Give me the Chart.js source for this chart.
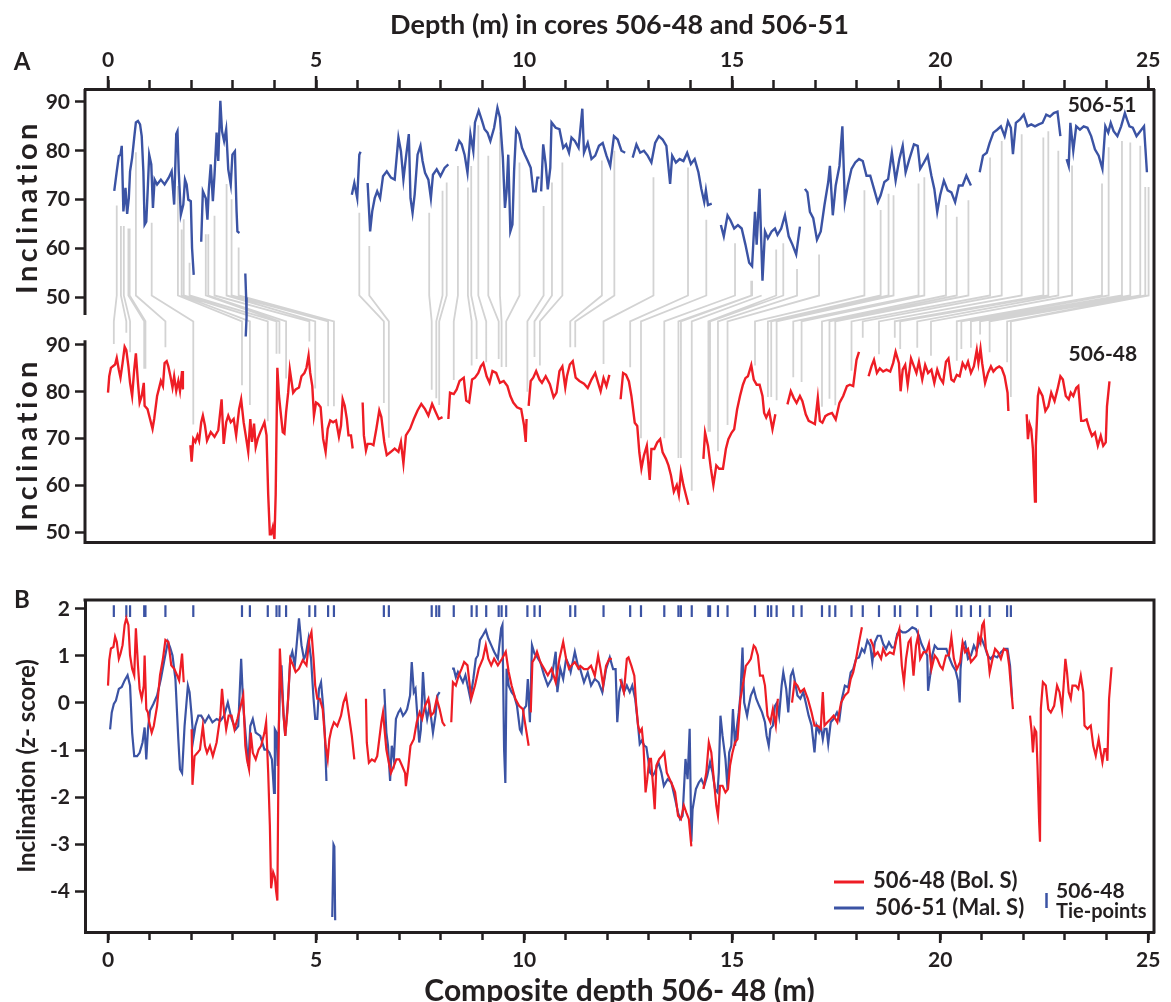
<!DOCTYPE html>
<html>
<head>
<meta charset="utf-8">
<script src="https://cdn.jsdelivr.net/npm/chart.js@4.4.1/dist/chart.umd.min.js"></script>
<style>
  html, body { margin: 0; padding: 0; background: #fff; overflow: hidden; }
  #wrap { position: relative; width: 1171px; height: 1002px; }
  #chartA { position: absolute; left: 0; top: 0; }
  #chartB { position: absolute; left: 0; top: 560px; }
</style>
</head>
<body>
<div id="wrap">
  <canvas id="chartA" width="1171" height="560"></canvas>
  <canvas id="chartB" width="1171" height="450"></canvas>
</div>
<script>
// ---- data ---------------------------------------------------------------
// [depth (m), inclination]; null = core break
const core51Incl = [
  [0.15,71.8],[0.21,75.8],[0.26,78.9],[0.30,79.2],[0.33,81.0],[0.37,67.6],[0.42,72.4],[0.46,67.1],[0.50,70.3],[0.53,75.8],
  [0.58,78.6],[0.63,82.7],[0.67,85.8],[0.72,86.1],[0.77,85.4],[0.81,83.0],[0.85,75.8],[0.88,64.9],[0.92,65.5],[0.96,73.1],
  [0.99,79.2],[1.04,77.2],[1.08,68.3],[1.12,74.1],[1.18,73.1],[1.27,74.1],[1.36,73.1],[1.46,74.5],[1.53,75.8],[1.59,69.0],
  [1.64,83.4],[1.67,84.0],[1.70,75.8],[1.75,66.9],[1.81,69.0],[1.85,74.1],[1.89,73.1],[1.93,70.0],[1.99,69.7],[2.02,60.1],
  [2.06,54.6],[2.15,null],
  [2.24,61.4],[2.28,71.7],[2.35,70.3],[2.39,65.9],[2.42,71.7],[2.47,77.2],[2.52,69.7],[2.56,75.1],[2.61,83.7],[2.65,77.9],
  [2.70,90.2],[2.74,84.0],[2.79,82.0],[2.84,84.4],[2.89,76.2],[2.95,73.1],[2.99,79.2],[3.05,79.9],[3.09,67.6],[3.11,63.5],
  [3.16,63.2],[3.22,null],
  [3.30,54.9],[3.32,50.0],[3.33,46.0],[3.31,42.0],[4.50,null],
  [5.86,71.0],[5.92,73.4],[5.99,70.3],[6.04,79.2],[6.07,79.8],[6.15,null],
  [6.24,73.4],[6.30,63.5],[6.35,67.6],[6.41,70.3],[6.47,71.7],[6.54,70.3],[6.61,74.8],[6.70,75.8],[6.80,74.5],[6.89,74.1],
  [6.98,82.7],[7.04,79.9],[7.10,74.1],[7.16,78.6],[7.23,83.4],[7.27,70.3],[7.32,67.3],[7.37,71.0],[7.44,79.2],[7.51,81.0],
  [7.56,77.9],[7.62,75.5],[7.70,74.1],[7.76,70.3],[7.81,75.1],[7.90,76.2],[7.99,74.8],[8.09,76.5],[8.18,77.2],[8.27,null],
  [8.36,79.9],[8.44,82.0],[8.50,81.3],[8.57,79.2],[8.64,75.5],[8.71,83.4],[8.78,79.9],[8.82,85.8],[8.91,88.2],[8.99,86.1],
  [9.05,84.4],[9.12,83.7],[9.19,82.0],[9.28,84.7],[9.36,88.8],[9.42,86.8],[9.49,78.6],[9.54,68.3],[9.58,71.7],[9.62,79.2],
  [9.67,63.5],[9.72,64.9],[9.76,75.8],[9.81,84.4],[9.88,83.4],[9.95,80.6],[10.02,79.2],[10.09,77.9],[10.16,76.5],[10.22,71.7],
  [10.28,71.7],[10.32,74.5],[10.37,74.5],[10.39,null],
  [10.41,71.7],[10.46,81.3],[10.52,77.2],[10.57,72.1],[10.63,76.5],[10.66,85.8],[10.76,84.7],[10.85,84.4],[10.94,80.6],[11.01,81.3],
  [11.08,79.6],[11.14,82.7],[11.22,82.0],[11.31,80.6],[11.40,88.6],[11.44,79.6],[11.53,81.6],[11.62,78.3],[11.71,79.0],[11.80,81.0],
  [11.89,81.6],[11.98,79.0],[12.07,76.9],[12.16,83.0],[12.25,82.3],[12.34,80.0],[12.43,79.6],[12.52,null],
  [12.61,78.6],[12.70,81.3],[12.79,79.6],[12.88,80.0],[12.97,79.0],[13.06,77.6],[13.15,81.6],[13.24,83.0],[13.33,82.3],[13.42,81.0],
  [13.51,73.2],[13.56,79.0],[13.65,77.6],[13.74,78.3],[13.83,77.9],[13.92,79.6],[14.01,77.3],[14.10,78.3],[14.19,75.6],[14.26,72.2],
  [14.33,69.5],[14.37,71.9],[14.42,68.9],[14.51,69.2],[14.60,null],
  [14.73,64.8],[14.80,62.5],[14.89,66.8],[14.96,65.8],[15.05,64.1],[15.14,64.8],[15.23,64.1],[15.32,60.8],[15.41,57.1],[15.48,56.4],
  [15.55,67.5],[15.59,60.8],[15.66,72.2],[15.73,53.4],[15.79,63.5],[15.86,62.1],[15.95,63.5],[16.03,64.1],[16.09,62.8],[16.18,64.1],
  [16.27,66.8],[16.36,62.5],[16.45,60.8],[16.54,58.8],[16.63,64.5],[16.70,null],
  [16.75,72.2],[16.81,71.5],[16.87,67.5],[16.95,66.2],[17.04,61.8],[17.13,63.5],[17.22,68.9],[17.31,73.6],[17.35,76.9],[17.42,66.8],
  [17.49,72.9],[17.58,76.9],[17.65,85.0],[17.71,69.5],[17.78,72.9],[17.87,76.3],[17.96,77.6],[18.05,78.3],[18.14,77.9],[18.23,74.9],
  [18.32,74.9],[18.41,72.2],[18.50,69.5],[18.57,70.9],[18.66,73.6],[18.75,74.2],[18.84,79.6],[18.93,73.9],[19.02,78.3],[19.10,81.0],
  [19.17,75.6],[19.26,78.3],[19.37,81.3],[19.46,81.0],[19.52,76.3],[19.61,77.6],[19.70,79.0],[19.79,74.9],[19.86,72.2],[19.93,67.5],
  [20.00,70.9],[20.09,73.9],[20.18,71.9],[20.27,71.5],[20.36,69.5],[20.45,72.9],[20.54,72.9],[20.63,74.9],[20.74,72.9],[20.85,null],
  [20.95,75.6],[21.03,79.0],[21.12,79.6],[21.19,81.6],[21.28,83.7],[21.37,84.3],[21.46,85.0],[21.55,83.0],[21.63,86.0],[21.70,84.7],
  [21.75,79.3],[21.82,85.7],[21.92,86.4],[22.01,87.4],[22.10,85.0],[22.19,85.4],[22.28,85.0],[22.37,85.4],[22.46,85.7],[22.55,87.4],
  [22.64,87.0],[22.73,87.7],[22.82,88.0],[22.89,83.0],[22.96,null],
  [23.04,78.3],[23.09,76.9],[23.13,85.7],[23.20,80.0],[23.27,85.0],[23.36,84.3],[23.45,85.0],[23.54,84.7],[23.63,83.0],[23.72,80.3],
  [23.81,79.0],[23.90,76.3],[23.97,85.0],[24.04,83.7],[24.10,85.7],[24.17,84.0],[24.26,83.0],[24.35,85.0],[24.44,87.7],[24.49,86.4],
  [24.55,85.0],[24.63,84.7],[24.72,83.0],[24.81,84.0],[24.90,85.0],[24.97,75.6]
];

const core48Incl = [
  [0.00,79.8],[0.03,83.3],[0.07,85.1],[0.17,85.8],[0.21,87.2],[0.26,84.7],[0.30,83.0],[0.35,86.1],[0.40,89.6],[0.44,88.9],
  [0.49,85.4],[0.53,81.9],[0.58,79.1],[0.63,84.7],[0.67,88.2],[0.72,81.9],[0.76,77.7],[0.81,79.1],[0.86,81.9],[0.88,77.0],
  [0.95,76.3],[1.01,74.2],[1.07,72.1],[1.11,74.2],[1.18,79.1],[1.22,80.5],[1.27,82.3],[1.32,81.2],[1.36,86.1],[1.41,86.5],
  [1.45,85.4],[1.50,83.3],[1.55,80.9],[1.59,83.3],[1.64,80.2],[1.69,82.3],[1.73,80.2],[1.78,84.4],[1.80,80.5],[1.90,null],
  [1.98,68.6],[2.01,65.1],[2.05,70.0],[2.10,69.3],[2.15,70.7],[2.19,69.6],[2.24,73.5],[2.28,74.9],[2.33,72.8],[2.38,69.6],
  [2.47,71.4],[2.56,70.4],[2.65,71.8],[2.73,78.4],[2.78,68.9],[2.84,73.5],[2.89,74.9],[2.95,73.5],[3.02,74.2],[3.08,70.7],
  [3.15,76.3],[3.20,78.4],[3.26,73.5],[3.31,70.7],[3.37,67.2],[3.42,74.2],[3.46,69.3],[3.51,73.2],[3.55,68.2],[3.60,70.0],
  [3.66,71.4],[3.76,73.5],[3.81,70.7],[3.85,58.1],[3.89,49.6],[3.92,49.6],[3.96,51.1],[4.00,48.6],[4.03,58.1],[4.07,85.1],
  [4.11,79.1],[4.15,75.6],[4.20,71.4],[4.24,71.1],[4.28,75.6],[4.33,79.8],[4.37,84.7],[4.45,79.8],[4.51,80.5],[4.59,80.9],
  [4.65,83.3],[4.72,84.0],[4.77,85.1],[4.82,87.7],[4.86,84.0],[4.91,81.2],[4.95,74.9],[5.00,77.7],[5.05,77.4],[5.11,76.7],
  [5.17,70.0],[5.23,67.2],[5.28,72.1],[5.34,73.9],[5.41,73.5],[5.48,73.9],[5.55,70.4],[5.60,72.8],[5.64,78.4],[5.69,77.0],
  [5.74,74.2],[5.78,70.7],[5.84,70.7],[5.88,67.9],[6.00,null],
  [6.12,77.7],[6.15,70.7],[6.20,67.5],[6.24,68.9],[6.32,68.9],[6.38,68.6],[6.45,72.1],[6.52,76.0],[6.57,74.6],[6.64,69.3],
  [6.70,66.5],[6.80,67.2],[6.89,67.9],[6.98,67.2],[7.04,69.3],[7.10,64.7],[7.16,70.7],[7.26,72.1],[7.35,74.2],[7.44,76.0],
  [7.53,77.4],[7.62,76.3],[7.70,74.9],[7.79,77.4],[7.88,75.6],[7.95,74.2],[8.04,74.6],[8.11,null],
  [8.18,74.2],[8.22,79.8],[8.31,79.5],[8.38,80.5],[8.45,82.3],[8.55,83.0],[8.61,78.1],[8.68,77.7],[8.75,82.6],[8.82,83.0],
  [8.90,84.0],[8.96,85.4],[9.02,86.1],[9.10,83.3],[9.17,81.9],[9.24,84.4],[9.33,84.0],[9.42,81.9],[9.51,82.3],[9.60,81.2],
  [9.67,79.1],[9.74,77.7],[9.83,76.7],[9.93,76.3],[10.00,72.8],[10.04,69.3],[10.06,74.2],[10.08,null],
  [10.11,77.0],[10.16,82.3],[10.22,83.0],[10.29,84.4],[10.37,82.6],[10.43,81.9],[10.52,83.3],[10.62,81.6],[10.71,78.8],[10.78,79.8],
  [10.85,84.4],[10.92,85.4],[10.99,80.9],[11.03,83.3],[11.10,85.8],[11.17,86.5],[11.24,83.0],[11.33,82.3],[11.44,81.7],[11.53,80.8],
  [11.62,82.6],[11.71,84.0],[11.78,81.9],[11.84,80.1],[11.91,82.9],[11.98,81.2],[12.05,83.6],[12.18,null],
  [12.32,78.4],[12.38,84.0],[12.45,83.6],[12.52,82.2],[12.58,79.1],[12.66,73.4],[12.72,72.7],[12.77,67.1],[12.82,63.6],[12.88,66.4],
  [12.95,68.5],[13.02,61.2],[13.06,67.8],[13.13,67.8],[13.20,69.2],[13.27,69.9],[13.33,67.1],[13.41,65.7],[13.47,64.3],[13.53,62.2],
  [13.60,58.7],[13.67,60.1],[13.72,58.0],[13.77,62.9],[13.83,60.1],[13.89,58.0],[13.95,55.9],[14.10,null],
  [14.31,65.7],[14.35,71.3],[14.42,68.5],[14.49,63.6],[14.55,60.1],[14.62,64.3],[14.69,63.6],[14.78,63.6],[14.85,67.8],[14.91,69.9],
  [14.99,71.3],[15.05,72.0],[15.12,76.2],[15.19,79.1],[15.26,81.5],[15.32,82.9],[15.38,83.3],[15.46,85.7],[15.52,82.6],[15.59,81.5],
  [15.66,81.5],[15.73,79.1],[15.77,75.5],[15.82,74.5],[15.89,75.9],[15.97,72.0],[16.04,75.2],[16.20,null],
  [16.33,77.3],[16.41,80.1],[16.48,78.7],[16.55,77.6],[16.63,79.1],[16.69,78.0],[16.77,75.2],[16.84,73.8],[16.93,73.4],[16.99,73.1],
  [17.06,78.7],[17.11,73.8],[17.17,73.4],[17.24,74.8],[17.31,75.2],[17.40,75.5],[17.49,74.1],[17.58,77.6],[17.67,79.1],[17.76,81.2],
  [17.83,81.5],[17.91,81.2],[17.99,86.8],[18.05,88.5],[18.15,null],
  [18.28,83.3],[18.35,85.4],[18.41,86.8],[18.48,84.0],[18.55,85.0],[18.63,84.3],[18.71,84.7],[18.80,84.3],[18.87,86.1],[18.93,88.5],
  [19.01,86.1],[19.05,80.1],[19.10,84.7],[19.16,85.7],[19.22,81.5],[19.30,87.1],[19.37,85.4],[19.43,84.0],[19.49,86.4],[19.57,82.6],
  [19.64,85.7],[19.71,84.0],[19.79,84.7],[19.86,81.9],[19.93,84.7],[20.00,82.9],[20.07,81.9],[20.14,86.4],[20.20,87.1],[20.27,82.6],
  [20.33,82.2],[20.40,83.6],[20.47,83.3],[20.54,86.1],[20.61,85.0],[20.67,86.4],[20.74,84.0],[20.81,85.4],[20.88,88.9],[20.92,86.1],
  [20.97,89.2],[21.01,86.1],[21.08,81.9],[21.15,84.0],[21.22,85.4],[21.28,84.3],[21.35,85.0],[21.42,85.4],[21.48,85.0],[21.55,83.3],
  [21.62,79.8],[21.64,75.9],[21.90,null],
  [22.08,75.2],[22.11,69.9],[22.15,73.1],[22.19,72.0],[22.23,67.8],[22.28,56.6],[22.30,68.5],[22.35,79.1],[22.38,80.5],[22.46,79.1],
  [22.53,75.9],[22.60,76.9],[22.67,79.8],[22.75,78.0],[22.82,80.5],[22.89,83.3],[22.95,82.6],[23.02,79.1],[23.09,78.4],[23.14,79.8],
  [23.20,79.1],[23.27,80.8],[23.32,81.2],[23.39,73.8],[23.45,73.8],[23.52,74.1],[23.59,72.0],[23.65,70.6],[23.72,71.3],[23.79,68.5],
  [23.86,70.6],[23.92,68.5],[23.98,69.2],[24.01,76.9],[24.07,82.2]
];

// [composite depth (m), z-score]
const core51Z = [
  [0.05,-0.56],[0.09,-0.20],[0.14,-0.02],[0.19,0.05],[0.26,0.30],[0.33,0.34],[0.40,0.48],[0.47,0.59],[0.53,0.37],[0.58,-0.63],
  [0.63,-1.13],[0.70,-1.13],[0.76,-1.06],[0.83,-0.84],[0.88,-0.52],[0.92,-1.20],[0.96,-0.56],[1.01,-0.16],[1.09,-0.02],[1.18,0.16],
  [1.27,0.51],[1.36,0.94],[1.44,1.30],[1.49,1.19],[1.55,1.01],[1.62,0.51],[1.69,-0.77],[1.73,-1.41],[1.78,-1.49],[1.84,-0.49],
  [1.92,0.37],[1.96,0.23],[2.01,-0.27],[2.05,-0.77],[2.10,-0.49],[2.17,-0.27],[2.24,-0.27],[2.33,-0.41],[2.42,-0.27],[2.51,-0.41],
  [2.61,-0.34],[2.70,-0.38],[2.79,-0.27],[2.88,0.01],[2.97,-0.34],[3.07,-0.56],[3.13,-0.49],[3.20,0.94],[3.25,-0.06],[3.31,-0.70],
  [3.37,-1.34],[3.42,-0.49],[3.48,-0.34],[3.55,-0.63],[3.66,-0.70],[3.76,-0.99],[3.82,-0.99],[3.88,-1.06],[3.94,-1.20],[3.99,-1.91],
  [4.01,-0.56],[4.05,-0.63],[4.08,-1.34],[4.13,0.23],[4.17,0.80],[4.22,-0.27],[4.26,-0.70],[4.33,0.09],[4.38,0.94],[4.43,1.09],
  [4.49,0.80],[4.54,1.30],[4.59,1.80],[4.65,1.23],[4.71,0.94],[4.75,1.01],[4.82,1.37],[4.88,0.94],[4.94,0.09],[4.98,-0.34],
  [5.03,-0.34],[5.07,0.30],[5.12,0.44],[5.17,-0.06],[5.21,-0.63],[5.25,-1.66],[5.32,null],
  [5.39,-4.55],[5.42,-3.01],[5.44,-3.05],[5.46,-4.62],[5.60,null],
  [6.64,0.30],[6.69,-0.63],[6.73,-0.91],[6.78,-1.66],[6.82,-0.91],[6.87,-1.20],[6.92,-0.34],[6.98,-0.20],[7.03,-0.13],[7.09,-0.27],
  [7.15,-0.20],[7.19,-0.13],[7.26,0.16],[7.30,0.87],[7.35,0.23],[7.39,0.30],[7.44,-0.34],[7.48,-0.84],[7.52,-0.56],[7.57,0.66],
  [7.62,-0.06],[7.67,-0.34],[7.73,-0.06],[7.81,-0.63],[7.87,-0.27],[7.92,0.16],[7.97,0.23],[8.12,null],
  [8.27,0.73],[8.31,0.73],[8.36,0.55],[8.41,0.66],[8.45,0.59],[8.53,0.44],[8.59,0.59],[8.66,0.30],[8.71,0.09],[8.78,0.51],
  [8.84,0.94],[8.89,1.01],[8.94,1.34],[9.01,1.44],[9.08,1.55],[9.14,1.37],[9.21,1.23],[9.28,1.09],[9.37,0.94],[9.45,1.59],
  [9.48,1.66],[9.52,-0.99],[9.55,-1.70],[9.58,0.73],[9.63,0.37],[9.70,0.23],[9.76,0.16],[9.83,-0.06],[9.90,-0.56],[9.94,-0.63],
  [9.99,-0.13],[10.05,-0.06],[10.09,0.51],[10.14,-0.41],[10.19,1.23],[10.25,1.05],[10.29,1.01],[10.39,0.87],[10.48,0.59],[10.57,0.37],
  [10.66,0.51],[10.76,1.09],[10.80,0.23],[10.87,0.73],[10.94,0.51],[11.01,0.94],[11.08,0.80],[11.12,0.66],[11.22,1.09],[11.31,0.73],
  [11.35,0.72],[11.44,0.44],[11.53,0.65],[11.61,0.37],[11.70,0.51],[11.79,0.44],[11.88,0.23],[11.97,0.72],[12.06,0.97],[12.14,0.72],
  [12.20,0.72],[12.24,-0.41],[12.29,0.23],[12.35,0.44],[12.40,0.23],[12.47,0.37],[12.54,0.23],[12.60,0.37],[12.67,0.09],[12.74,-0.48],
  [12.78,-0.87],[12.83,-0.80],[12.89,-0.91],[12.94,-0.94],[13.03,-1.48],[13.09,-1.55],[13.14,-1.48],[13.23,-1.26],[13.30,-1.48],[13.36,-1.76],
  [13.45,-1.62],[13.54,-1.69],[13.63,-2.04],[13.70,-2.33],[13.75,-2.47],[13.81,-2.40],[13.88,-1.19],[13.93,-1.62],[13.98,-0.55],[14.02,-2.95],
  [14.05,-2.26],[14.13,-1.83],[14.20,-1.69],[14.26,-1.62],[14.33,-1.76],[14.40,-1.55],[14.47,-1.26],[14.53,-1.48],[14.59,-1.83],[14.65,-1.90],
  [14.68,-1.48],[14.72,-0.27],[14.77,-0.70],[14.84,-1.19],[14.89,-1.83],[14.93,-1.05],[14.98,-0.91],[15.02,-0.13],[15.07,-0.91],[15.11,-0.55],
  [15.16,-0.20],[15.20,0.16],[15.25,1.18],[15.29,0.01],[15.36,-0.27],[15.40,-0.06],[15.45,0.16],[15.52,0.30],[15.58,0.09],[15.65,-0.06],
  [15.72,-0.20],[15.79,-0.41],[15.83,-0.70],[15.88,-0.91],[15.92,-0.55],[15.98,-0.48],[16.03,-0.06],[16.08,0.01],[16.13,-0.27],[16.19,0.37],
  [16.23,0.65],[16.30,0.30],[16.35,-0.20],[16.41,0.58],[16.46,0.69],[16.50,0.51],[16.57,0.16],[16.64,0.09],[16.71,0.23],[16.77,0.01],
  [16.84,-0.27],[16.91,-0.48],[16.98,-1.05],[17.03,-0.48],[17.09,-0.62],[17.13,-0.48],[17.18,-0.77],[17.22,-0.55],[17.27,-0.55],[17.31,-0.87],
  [17.37,-0.41],[17.44,-0.34],[17.52,-0.20],[17.58,-0.34],[17.64,0.09],[17.71,0.37],[17.79,0.33],[17.85,0.65],[17.91,0.72],[17.98,0.94],
  [18.05,0.97],[18.12,1.15],[18.18,1.08],[18.25,1.33],[18.32,1.22],[18.37,0.87],[18.43,1.29],[18.50,1.43],[18.57,1.43],[18.63,1.26],
  [18.70,1.15],[18.77,1.29],[18.84,1.18],[18.90,1.18],[18.97,1.47],[19.04,1.54],[19.10,1.50],[19.17,1.50],[19.24,1.54],[19.33,1.61],
  [19.42,1.57],[19.49,1.43],[19.55,1.26],[19.61,1.15],[19.69,1.01],[19.71,0.26],[19.76,0.58],[19.81,1.01],[19.87,1.22],[19.94,1.15],
  [20.01,1.15],[20.08,1.15],[20.15,1.15],[20.23,0.94],[20.30,0.79],[20.37,0.69],[20.43,0.48],[20.47,0.01],[20.49,0.72],[20.54,1.22],
  [20.60,1.29],[20.67,0.94],[20.74,1.01],[20.81,1.22],[20.87,1.11],[20.94,1.29],[21.00,1.36],[21.08,1.18],[21.14,1.01],[21.21,0.94],
  [21.28,1.01],[21.37,0.97],[21.46,1.08],[21.55,1.15],[21.62,1.15],[21.68,0.79],[21.73,0.09]
];

const core48Z = [
  [0.00,0.37],[0.03,0.91],[0.07,1.16],[0.13,1.19],[0.17,1.41],[0.21,1.30],[0.26,0.94],[0.30,1.05],[0.35,1.23],[0.40,1.66],
  [0.44,1.80],[0.49,1.66],[0.53,1.01],[0.58,0.73],[0.63,0.59],[0.67,1.59],[0.72,0.80],[0.76,0.30],[0.81,0.09],[0.86,0.37],
  [0.88,1.01],[0.92,-0.13],[0.96,-0.20],[0.99,-0.41],[1.05,-0.63],[1.10,-0.49],[1.18,-0.06],[1.25,0.59],[1.32,0.94],[1.38,1.34],
  [1.45,1.30],[1.52,0.80],[1.59,0.73],[1.66,0.59],[1.71,0.48],[1.78,1.05],[1.82,0.44],[1.90,null],
  [2.01,-0.56],[2.03,-1.74],[2.08,-1.13],[2.15,-1.06],[2.21,-0.99],[2.28,-0.49],[2.33,-0.91],[2.38,-1.06],[2.45,-0.91],[2.52,-1.13],
  [2.61,-0.84],[2.70,-0.27],[2.74,0.30],[2.79,-0.20],[2.84,-0.56],[2.90,-0.27],[2.97,-0.27],[3.04,-0.56],[3.11,-0.34],[3.19,-0.06],
  [3.25,0.16],[3.30,-0.91],[3.34,-1.20],[3.39,-1.41],[3.43,-0.63],[3.48,-1.06],[3.55,-1.20],[3.62,-0.99],[3.68,-0.91],[3.76,-0.63],
  [3.80,-0.41],[3.85,-1.49],[3.89,-2.60],[3.92,-3.94],[3.97,-3.60],[4.01,-3.70],[4.04,-4.00],[4.07,-4.20],[4.10,-1.00],[4.13,1.16],
  [4.17,0.44],[4.22,-0.27],[4.26,-0.70],[4.31,-0.20],[4.38,0.94],[4.45,0.80],[4.51,0.66],[4.59,0.73],[4.68,0.91],[4.77,0.80],
  [4.84,1.37],[4.89,1.51],[4.94,0.94],[4.98,0.37],[5.03,0.09],[5.09,0.09],[5.16,-0.13],[5.23,-0.91],[5.28,-1.20],[5.32,-0.77],
  [5.37,-0.56],[5.43,-0.41],[5.51,-0.49],[5.60,-0.27],[5.66,0.01],[5.72,0.16],[5.78,-0.20],[5.86,-0.70],[5.92,-1.20],[6.05,null],
  [6.20,0.09],[6.22,-0.84],[6.27,-1.27],[6.34,-1.20],[6.41,-1.24],[6.47,-1.13],[6.57,-0.41],[6.61,-0.20],[6.69,-0.99],[6.75,-1.27],
  [6.80,-1.49],[6.87,-1.34],[6.93,-1.20],[7.00,-1.20],[7.07,-1.34],[7.14,-1.49],[7.16,-1.77],[7.22,-1.34],[7.27,-0.91],[7.35,-0.77],
  [7.42,-0.41],[7.49,-0.20],[7.55,-0.34],[7.62,-0.06],[7.70,0.09],[7.76,-0.27],[7.83,-0.20],[7.90,0.09],[7.97,-0.13],[8.04,-0.41],
  [8.10,-0.49],[8.18,null],
  [8.25,-0.41],[8.29,0.44],[8.36,0.37],[8.43,0.59],[8.50,0.73],[8.56,0.87],[8.64,0.80],[8.73,0.09],[8.82,0.37],[8.91,0.73],
  [9.01,0.94],[9.08,1.23],[9.14,0.94],[9.21,0.80],[9.28,0.94],[9.37,0.80],[9.47,0.94],[9.56,1.09],[9.63,0.66],[9.70,0.37],
  [9.79,0.09],[9.88,-0.06],[9.97,-0.13],[10.06,-0.63],[10.11,-0.91],[10.13,null],
  [10.16,-0.20],[10.20,0.87],[10.25,0.94],[10.31,1.09],[10.39,0.87],[10.48,0.73],[10.57,0.59],[10.66,0.73],[10.76,0.44],[10.85,0.94],
  [10.94,1.30],[11.01,0.94],[11.08,0.73],[11.14,0.80],[11.22,0.87],[11.31,0.73],[11.35,0.79],[11.44,0.72],[11.53,0.72],[11.61,0.79],
  [11.70,0.58],[11.78,1.01],[11.84,0.72],[11.90,0.37],[11.97,0.79],[12.05,0.94],[12.11,0.94],[12.20,null],
  [12.31,0.51],[12.40,0.23],[12.47,0.94],[12.51,0.97],[12.58,0.79],[12.65,0.58],[12.69,0.01],[12.74,-0.48],[12.78,-0.62],[12.83,-0.55],
  [12.87,-0.91],[12.92,-1.90],[12.96,-1.62],[13.01,-1.19],[13.05,-1.19],[13.10,-1.76],[13.14,-2.26],[13.18,-1.33],[13.25,-1.19],[13.32,-1.12],
  [13.37,-1.05],[13.43,-1.48],[13.50,-1.62],[13.57,-1.76],[13.63,-1.90],[13.70,-2.40],[13.77,-2.47],[13.84,-2.18],[13.90,-2.33],[13.96,-2.47],
  [14.02,-3.05],[14.15,null],
  [14.31,-1.83],[14.38,-1.48],[14.44,-0.84],[14.50,-1.05],[14.56,-1.62],[14.62,-2.18],[14.66,-2.40],[14.71,-1.76],[14.77,-1.76],[14.84,-1.90],
  [14.90,-1.83],[14.95,-1.33],[15.01,-1.05],[15.07,-0.84],[15.13,-0.77],[15.20,0.09],[15.27,0.44],[15.33,0.79],[15.40,0.87],[15.45,0.94],
  [15.52,1.22],[15.56,1.18],[15.62,1.01],[15.67,0.58],[15.74,0.58],[15.79,0.37],[15.85,-0.27],[15.92,-0.41],[15.98,-0.13],[16.05,-0.48],
  [16.10,0.09],[16.30,null],
  [16.44,0.01],[16.50,0.44],[16.57,0.37],[16.64,0.23],[16.73,0.30],[16.82,0.09],[16.91,-0.20],[16.98,-0.48],[17.05,-0.48],[17.13,-0.55],
  [17.18,0.23],[17.22,-0.48],[17.29,-0.41],[17.37,-0.34],[17.44,-0.27],[17.53,-0.41],[17.62,0.01],[17.71,0.16],[17.79,0.23],[17.85,0.51],
  [17.91,0.65],[17.98,0.94],[18.05,1.29],[18.12,1.61],[18.22,null],
  [18.32,1.36],[18.39,1.22],[18.43,1.01],[18.50,1.08],[18.58,0.94],[18.63,1.15],[18.70,1.01],[18.79,1.08],[18.88,1.04],[18.95,1.36],
  [19.02,1.57],[19.08,0.79],[19.13,0.44],[19.18,0.94],[19.24,1.29],[19.29,1.36],[19.36,0.58],[19.42,1.22],[19.47,1.43],[19.52,0.94],
  [19.60,1.08],[19.67,1.08],[19.73,1.26],[19.79,0.72],[19.87,1.01],[19.93,0.94],[20.00,0.79],[20.06,0.72],[20.14,1.01],[20.21,1.01],
  [20.27,1.40],[20.33,0.94],[20.40,0.72],[20.48,0.87],[20.54,1.29],[20.60,1.08],[20.67,1.15],[20.74,0.87],[20.81,0.94],[20.87,1.01],
  [20.92,1.43],[20.97,1.29],[21.01,1.65],[21.05,1.72],[21.10,1.15],[21.15,1.01],[21.19,0.65],[21.26,0.94],[21.32,1.15],[21.39,1.08],
  [21.46,0.94],[21.53,1.15],[21.61,1.11],[21.66,0.79],[21.70,0.37],[21.75,-0.13],[21.95,null],
  [22.16,-0.27],[22.20,-0.62],[22.23,-1.05],[22.27,-0.55],[22.31,-0.62],[22.34,-1.33],[22.38,-2.54],[22.40,-2.95],[22.42,-0.13],[22.47,0.44],
  [22.54,0.37],[22.60,-0.13],[22.66,-0.20],[22.74,-0.06],[22.81,0.37],[22.87,0.23],[22.93,-0.13],[23.01,0.94],[23.05,0.65],[23.09,0.23],
  [23.14,0.09],[23.18,0.37],[23.26,0.37],[23.32,0.30],[23.38,0.58],[23.44,0.23],[23.47,-0.48],[23.54,-0.55],[23.62,-0.48],[23.68,-0.91],
  [23.74,-1.12],[23.81,-0.77],[23.86,-1.05],[23.90,-1.26],[23.95,-0.98],[23.99,-0.98],[24.02,-1.23],[24.06,0.09],[24.12,0.76]
];

// tie-points: depth in 506-51 and the matching depth in 506-48
const tie51 = [
  0.21,0.31,0.38,0.49,0.52,0.67,1.05,
  1.68,1.77,1.82,1.96,2.35,2.41,2.56,2.85,2.97,3.14,
  6.04,6.28,7.72,8.04,8.14,8.41,8.65,8.73,8.90,9.14,9.42,9.89,10.47,10.67,10.92,11.87,12.17,
  13.11,13.94,14.38,15.07,15.46,15.48,15.71,16.06,16.23,16.56,17.09,18.18,18.57,18.76,18.88,19.48,
  19.62,20.14,20.40,20.68,21.20,21.48,21.96,22.48,22.60,22.84,23.17,23.89,24.05,24.37,24.57,24.81,24.93,25.01
];
const tie48 = [
  0.14,0.44,0.53,0.87,0.90,1.38,2.05,
  3.22,3.41,3.84,4.05,4.12,4.28,4.84,4.98,5.29,5.43,
  6.63,6.75,7.78,7.89,7.96,8.31,8.74,8.86,9.09,9.39,9.46,9.57,10.08,10.25,10.38,11.11,11.23,
  11.91,12.55,12.81,13.37,13.71,13.77,14.03,14.43,14.47,14.66,14.89,15.55,15.86,15.94,16.07,16.47,
  16.67,17.16,17.34,17.48,17.87,18.14,18.53,18.91,19.04,19.45,19.78,20.40,20.51,20.74,20.96,21.19,21.61,21.70
];

const depthTicks = [0,1,2,3,4,5,6,7,8,9,10,11,12,13,14,15,16,17,18,19,20,21,22,23,24,25];
const inclTicks = [50,60,70,80,90];
const zTicks = [2,1,0,-1,-2,-3,-4];

// ---- axis ranges & styling ------------------------------------------------
const X_MIN = -0.553, X_MAX = 25.14;
const BLUE_MIN = -0.1, BLUE_MAX = 92.63;   // upper (506-51) scale, spans whole panel A
const RED_MIN = 47.89, RED_MAX = 144.53;   // lower (506-48) scale, spans whole panel A
const Z_MIN = -4.87, Z_MAX = 2.19;
const TIE_BEND_UPPER = 50.4;   // in 506-51 units
const TIE_BEND_LOWER = 95.0;   // in 506-48 units
const TIE_GAP = 3;
const TIE_MARK_TOP = 2.08, TIE_MARK_BOTTOM = 1.83;

const BLUE = '#3b53a4', RED = '#ee1d25', GRAY = '#d3d3d3', INK = '#231f20';
const FONT = 'Lato';
Chart.defaults.font.family = FONT;
Chart.defaults.color = INK;

const toXY = arr => arr.map(([x, y]) => ({ x, y }));
const redToBlue = v => BLUE_MAX - (RED_MAX - v) * (BLUE_MAX - BLUE_MIN) / (RED_MAX - RED_MIN);

function localExtreme(series, d, pick) {
  const near = series.filter(p => p[1] !== null && Math.abs(p[0] - d) <= 0.07).map(p => p[1]);
  if (near.length) return pick(...near);
  let best = null;
  series.forEach(p => { if (p[1] !== null && (!best || Math.abs(p[0] - d) < Math.abs(best[0] - d))) best = p; });
  return best[1];
}

// connector polylines between the two cores (drawn on the 506-51 scale)
const tieLines = [];
tie51.forEach((d51, i) => {
  const d48 = tie48[i];
  const start = localExtreme(core51Incl, d51, Math.min) - TIE_GAP;
  const end = localExtreme(core48Incl, d48, Math.max) + TIE_GAP;
  tieLines.push({ x: d51, y: start }, { x: d51, y: TIE_BEND_UPPER },
                { x: d48, y: redToBlue(TIE_BEND_LOWER) }, { x: d48, y: redToBlue(end) },
                { x: d48, y: null });
});

const tieMarks = [];
tie48.forEach(d => { tieMarks.push({ x: d, y: TIE_MARK_TOP }, { x: d, y: TIE_MARK_BOTTOM }, { x: d, y: null }); });

const tickFont = { family: FONT, size: 21, weight: 'bold' };
const setTicks = values => s => { s.ticks = values.map(v => ({ value: v })); };

function drawSpaced(ctx, text, x, y, font, spacing) {
  ctx.save();
  ctx.translate(x, y);
  ctx.rotate(-Math.PI / 2);
  ctx.font = font;
  ctx.letterSpacing = spacing;
  ctx.textAlign = 'center';
  ctx.textBaseline = 'middle';
  ctx.fillStyle = INK;
  ctx.fillText(text, 0, 0);
  ctx.restore();
}

// ---- panel A --------------------------------------------------------------
// both inclination axes share the same left strip
const sharedAxisStrip = {
  id: 'sharedAxisStrip',
  afterLayout(chart) {
    const { yBlue, yRed } = chart.scales;
    yRed.left = yBlue.left;
    yRed.width = yRed.right - yRed.left;
  }
};

const panelADecor = {
  id: 'panelADecor',
  afterDraw(chart) {
    const { ctx, chartArea: a, scales } = chart;
    ctx.save();
    ctx.strokeStyle = INK;
    ctx.lineWidth = 3;
    ctx.beginPath();
    ctx.moveTo(a.right, a.top); ctx.lineTo(a.right, a.bottom); ctx.lineTo(a.left - 1.5, a.bottom);
    ctx.moveTo(a.left, a.top); ctx.lineTo(a.left, scales.yBlue.getPixelForValue(46.4));
    ctx.moveTo(a.left, scales.yRed.getPixelForValue(91)); ctx.lineTo(a.left, a.bottom);
    ctx.stroke();
    // longer major ticks
    ctx.lineWidth = 2.5;
    ctx.beginPath();
    depthTicks.filter(v => v % 5 === 0).forEach(v => {
      const px = scales.x.getPixelForValue(v);
      ctx.moveTo(px, a.top - 13); ctx.lineTo(px, a.top);
    });
    ctx.stroke();
    ctx.fillStyle = INK;
    ctx.textAlign = 'center';
    ctx.textBaseline = 'middle';
    ctx.font = `bold 24px ${FONT}`;
    ctx.fillText('A', 22, 62);
    ctx.font = `bold 21px ${FONT}`;
    ctx.fillText('506-51', scales.x.getPixelForValue(23.89), scales.yBlue.getPixelForValue(89.4));
    ctx.fillText('506-48', scales.x.getPixelForValue(23.91), scales.yRed.getPixelForValue(87.9));
    drawSpaced(ctx, 'Inclination', 28, 207, `bold 29px ${FONT}`, '3.5px');
    drawSpaced(ctx, 'Inclination', 28, 445, `bold 29px ${FONT}`, '3.5px');
    ctx.restore();
  }
};

new Chart(document.getElementById('chartA'), {
  type: 'line',
  data: {
    datasets: [
      { label: '506-51', data: toXY(core51Incl), yAxisID: 'yBlue', borderColor: BLUE, borderWidth: 2.4,
        pointRadius: 0, tension: 0, spanGaps: false, order: 1 },
      { label: '506-48', data: toXY(core48Incl), yAxisID: 'yRed', borderColor: RED, borderWidth: 2.4,
        pointRadius: 0, tension: 0, spanGaps: false, order: 0 },
      { label: 'tie lines', data: tieLines, yAxisID: 'yBlue', borderColor: GRAY, borderWidth: 1.8,
        pointRadius: 0, tension: 0, spanGaps: false, order: 5 }
    ]
  },
  options: {
    responsive: false,
    animation: false,
    devicePixelRatio: 1,
    layout: { padding: { left: 0, top: 0, right: 17, bottom: 12 } },
    plugins: { legend: { display: false }, tooltip: { enabled: false } },
    scales: {
      x: {
        type: 'linear', position: 'top', min: X_MIN, max: X_MAX,
        afterBuildTicks: setTicks(depthTicks),
        afterFit: s => { s.height = 89; },
        ticks: { callback: v => (v % 5 === 0 ? String(v) : ''), autoSkip: false, maxRotation: 0,
                 font: tickFont, color: INK, padding: 7 },
        grid: { drawOnChartArea: false, tickLength: 9, tickWidth: 2.5, tickColor: INK },
        border: { display: true, width: 3, color: INK },
        title: { display: true, text: 'Depth (m) in cores 506-48 and 506-51', color: INK,
                 font: { family: FONT, size: 27, weight: 'bold' }, padding: { top: 9, bottom: 0 } }
      },
      yBlue: {
        type: 'linear', position: 'left', weight: 1, min: BLUE_MIN, max: BLUE_MAX,
        afterBuildTicks: setTicks(inclTicks),
        afterFit: s => { s.width = 85; },
        ticks: { font: tickFont, color: INK, padding: 5 },
        grid: { drawOnChartArea: false, tickLength: 10, tickWidth: 2.5, tickColor: INK },
        border: { display: false }
      },
      yRed: {
        type: 'linear', position: 'left', weight: 0, min: RED_MIN, max: RED_MAX,
        afterBuildTicks: setTicks(inclTicks),
        afterFit: s => { s.width = 0; },
        ticks: { font: tickFont, color: INK, padding: 5 },
        grid: { drawOnChartArea: false, tickLength: 10, tickWidth: 2.5, tickColor: INK },
        border: { display: false }
      }
    }
  },
  plugins: [sharedAxisStrip, panelADecor]
});

// ---- panel B --------------------------------------------------------------
const panelBDecor = {
  id: 'panelBDecor',
  afterDraw(chart) {
    const { ctx, chartArea: a, scales } = chart;
    ctx.save();
    ctx.strokeStyle = INK;
    ctx.lineWidth = 3;
    ctx.beginPath();
    ctx.moveTo(a.left - 1.5, a.top); ctx.lineTo(a.right, a.top); ctx.lineTo(a.right, a.bottom + 1.5);
    ctx.stroke();
    ctx.lineWidth = 2.5;
    ctx.beginPath();
    depthTicks.filter(v => v % 5 === 0).forEach(v => {
      const px = scales.x.getPixelForValue(v);
      ctx.moveTo(px, a.bottom); ctx.lineTo(px, a.bottom + 11);
    });
    ctx.stroke();
    ctx.fillStyle = INK;
    ctx.textAlign = 'center';
    ctx.textBaseline = 'middle';
    ctx.font = `bold 24px ${FONT}`;
    ctx.fillText('B', 22, 40);

    // legend
    ctx.lineWidth = 3;
    ctx.strokeStyle = RED;
    ctx.beginPath(); ctx.moveTo(834, 322); ctx.lineTo(864, 322); ctx.stroke();
    ctx.strokeStyle = BLUE;
    ctx.beginPath(); ctx.moveTo(834, 348); ctx.lineTo(864, 348); ctx.stroke();
    ctx.lineWidth = 2.5;
    ctx.beginPath(); ctx.moveTo(1046.5, 333); ctx.lineTo(1046.5, 348); ctx.stroke();
    ctx.textAlign = 'left';
    ctx.font = `bold 22px ${FONT}`;
    ctx.fillText('506-48 (Bol. S)', 873, 321);
    ctx.fillText('506-51 (Mal. S)', 875, 348);
    ctx.font = `bold 21px ${FONT}`;
    ctx.fillText('506-48', 1056, 331);
    ctx.font = `bold 20px ${FONT}`;
    ctx.fillText('Tie-points', 1056, 352);
    ctx.restore();
  }
};

new Chart(document.getElementById('chartB'), {
  type: 'line',
  data: {
    datasets: [
      { label: '506-48 (Bol. S)', data: toXY(core48Z), borderColor: RED, borderWidth: 2.2,
        pointRadius: 0, tension: 0, spanGaps: false, order: 0 },
      { label: '506-51 (Mal. S)', data: toXY(core51Z), borderColor: BLUE, borderWidth: 2.2,
        pointRadius: 0, tension: 0, spanGaps: false, order: 1 },
      { label: '506-48 Tie-points', data: tieMarks, borderColor: BLUE, borderWidth: 2.2,
        pointRadius: 0, tension: 0, spanGaps: false, order: 2 }
    ]
  },
  options: {
    responsive: false,
    animation: false,
    devicePixelRatio: 1,
    layout: { padding: { left: 0, top: 40, right: 17, bottom: 0 } },
    plugins: { legend: { display: false }, tooltip: { enabled: false } },
    scales: {
      x: {
        type: 'linear', position: 'bottom', min: X_MIN, max: X_MAX,
        afterBuildTicks: setTicks(depthTicks),
        afterFit: s => { s.height = 78; },
        ticks: { callback: v => (v % 5 === 0 ? String(v) : ''), autoSkip: false, maxRotation: 0,
                 font: tickFont, color: INK, padding: 8 },
        grid: { drawOnChartArea: false, tickLength: 8, tickWidth: 2.5, tickColor: INK },
        border: { display: true, width: 3, color: INK },
        title: { display: true, text: 'Composite depth 506- 48 (m)', color: INK,
                 font: { family: FONT, size: 30, weight: 'bold' }, padding: { top: 0, bottom: 1 } }
      },
      y: {
        type: 'linear', position: 'left', min: Z_MIN, max: Z_MAX,
        afterBuildTicks: setTicks(zTicks),
        afterFit: s => { s.width = 85; },
        ticks: { callback: v => String(v), font: tickFont, color: INK, padding: 5 },
        grid: { drawOnChartArea: false, tickLength: 10, tickWidth: 2.5, tickColor: INK },
        border: { display: true, width: 3, color: INK },
        title: { display: true, text: 'Inclination (z- score)', color: INK,
                 font: { family: FONT, size: 24, weight: 'bold' }, padding: { top: 13, bottom: 0 } }
      }
    }
  },
  plugins: [panelBDecor]
});
</script>
</body>
</html>
